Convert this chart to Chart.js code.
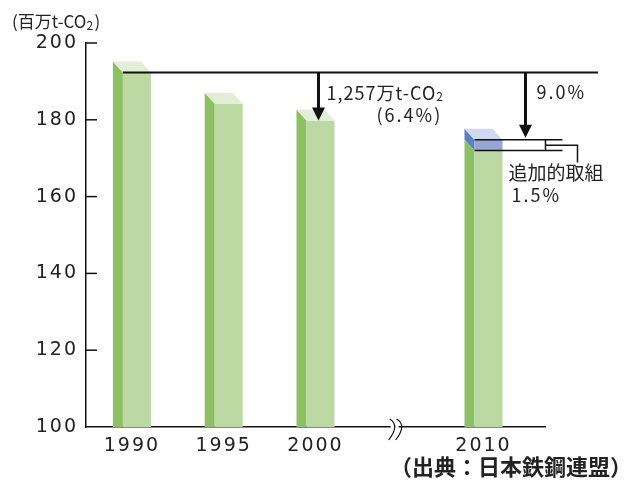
<!DOCTYPE html>
<html lang="ja">
<head>
<meta charset="utf-8">
<title>鉄鋼業のCO2排出量</title>
<script src="https://cdn.jsdelivr.net/npm/chart.js@4.4.1/dist/chart.umd.min.js"></script>
<style>
  html, body { margin: 0; padding: 0; background: #fff; }
</style>
</head>
<body>
<canvas id="co2Chart" width="628" height="480"></canvas>
<script>
const years = ['1990', '1995', '2000', '2010'];
// where each year sits on the x scale (2010 is after the axis break)
const yearSlots = [0, 1, 2, 3.83];
const emissions = [192.3, 184.2, 179.8, 172.0];   // 百万t-CO2
const extraEffort = [null, null, null, 2.8];      // 追加的取組
const yTicks = [100, 120, 140, 160, 180, 200];

const FONT = "'Noto Sans CJK JP', 'Noto Sans', sans-serif";
const NUM_FONT = "'DejaVu Sans', 'Noto Sans CJK JP', sans-serif";
const depthX = 10, depthY = 11;

// 3D look: left side face + top face, drawn from the bar elements
const bars3d = {
    id: 'bars3d',
    afterDatasetsDraw(chart) {
        const ctx = chart.ctx;
        const area = chart.chartArea;
        const sets = chart.data.datasets;
        ctx.save();
        ctx.beginPath();
        ctx.rect(area.left, area.top - 20, area.right - area.left, area.bottom - area.top + 20);
        ctx.clip();
        sets.forEach((ds, di) => {
            const meta = chart.getDatasetMeta(di);
            meta.data.forEach((bar, i) => {
                if (ds.data[i].y == null) return;
                let { x, y, base, width } = bar.getProps(['x', 'y', 'base', 'width'], true);
                if (di === 0) base = Math.min(base, area.bottom);
                const left = x - width / 2, front = left + depthX, right = x + width / 2;
                let isTop = true;
                for (let k = di + 1; k < sets.length; k++) {
                    if (sets[k].data[i].y != null) isTop = false;
                }
                // side face
                ctx.fillStyle = ds.sideColor;
                ctx.beginPath();
                ctx.moveTo(left, y - depthY);
                ctx.lineTo(front, y);
                ctx.lineTo(front, base);
                ctx.lineTo(left, di === 0 ? base : base - depthY);
                ctx.closePath();
                ctx.fill();
                // front face
                ctx.fillStyle = ds.frontColor;
                ctx.fillRect(front, y, right - front, base - y);
                // top face
                if (isTop) {
                    ctx.fillStyle = ds.topColor;
                    ctx.beginPath();
                    ctx.moveTo(left, y - depthY);
                    ctx.lineTo(right - depthX, y - depthY);
                    ctx.lineTo(right, y);
                    ctx.lineTo(front, y);
                    ctx.closePath();
                    ctx.fill();
                }
            });
        });
        ctx.restore();
    }
};

function arrow(ctx, x, y1, y2) {
    ctx.lineWidth = 3;
    ctx.beginPath();
    ctx.moveTo(x, y1);
    ctx.lineTo(x, y2 - 12);
    ctx.stroke();
    ctx.beginPath();
    ctx.moveTo(x - 6.5, y2 - 13);
    ctx.lineTo(x + 6.5, y2 - 13);
    ctx.lineTo(x, y2);
    ctx.closePath();
    ctx.fill();
}

const annotations = {
    id: 'annotations',
    beforeDraw(chart) {
        chart.ctx.letterSpacing = '2px';
    },
    afterDraw(chart) {
        const ctx = chart.ctx;
        const xs = chart.scales.x, ys = chart.scales.y;
        const area = chart.chartArea;
        const bars = chart.getDatasetMeta(0).data;
        const top2010 = emissions[3] + extraEffort[3];
        ctx.save();
        ctx.letterSpacing = '0px';
        ctx.strokeStyle = '#111';
        ctx.fillStyle = '#111';

        // inward tick marks on y axis
        ctx.lineWidth = 1.5;
        yTicks.slice(1).forEach(v => {
            const py = ys.getPixelForValue(v);
            ctx.beginPath();
            ctx.moveTo(area.left, py);
            ctx.lineTo(area.left + 11, py);
            ctx.stroke();
        });

        // axis break
        const bx = xs.getPixelForValue(2.84);
        ctx.fillStyle = '#fff';
        ctx.fillRect(bx - 2, area.bottom - 3, 8, 6);
        ctx.lineWidth = 1.2;
        [0, 7].forEach(dx => {
            ctx.beginPath();
            ctx.moveTo(bx + dx - 3, area.bottom - 8);
            ctx.bezierCurveTo(bx + dx + 4, area.bottom - 4, bx + dx + 4, area.bottom + 3, bx + dx - 4, area.bottom + 13);
            ctx.stroke();
        });
        ctx.fillStyle = '#111';

        // 1990 reference line
        const refY = ys.getPixelForValue(emissions[0]);
        const f1990 = bars[0].x - bars[0].width / 2 + depthX;
        ctx.lineWidth = 2;
        ctx.beginPath();
        ctx.moveTo(f1990, refY);
        ctx.lineTo(area.right + 53, refY);
        ctx.stroke();

        // arrows
        arrow(ctx, bars[2].x + 3, refY, ys.getPixelForValue(emissions[2]));
        const a2x = bars[3].x + bars[3].width / 2 + 23;
        arrow(ctx, a2x, refY, ys.getPixelForValue(top2010) - 2);

        // bracket for 追加的取組
        const by = ys.getPixelForValue(top2010);
        const gy = ys.getPixelForValue(emissions[3]);
        const f2010 = bars[3].x - bars[3].width / 2 + depthX;
        const midY = (by + gy) / 2;
        ctx.lineWidth = 1.5;
        ctx.beginPath();
        ctx.moveTo(f2010, by); ctx.lineTo(a2x + 37, by);
        ctx.moveTo(f2010, gy); ctx.lineTo(a2x + 37, gy);
        ctx.moveTo(a2x + 20, by); ctx.lineTo(a2x + 20, gy);
        ctx.moveTo(a2x + 20, midY); ctx.lineTo(a2x + 52, midY); ctx.lineTo(a2x + 52, gy + 12);
        ctx.stroke();

        // texts
        ctx.textBaseline = 'middle';
        ctx.textAlign = 'left';
        ctx.fillStyle = '#222';
        ctx.letterSpacing = '1px';
        ctx.font = '18px ' + FONT;
        ctx.fillText('1,257万t-CO', bars[2].x + 11, 93);
        const w = ctx.measureText('1,257万t-CO').width;
        ctx.font = '12px ' + FONT;
        ctx.fillText('2', bars[2].x + 11 + w, 96);
        ctx.letterSpacing = '2px';
        ctx.font = '18px ' + FONT;
        ctx.fillText('(6.4%)', bars[2].x + 61, 115);
        ctx.fillText('9.0%', a2x + 11, 92);
        ctx.letterSpacing = '0px';
        ctx.font = '19px ' + FONT;
        ctx.fillText('追加的取組', bars[3].x + 25, 173);
        ctx.letterSpacing = '2px';
        ctx.font = '18px ' + FONT;
        ctx.fillText('1.5%', bars[3].x + 28, 195);

        // unit label
        ctx.letterSpacing = '0px';
        ctx.font = '17px ' + FONT;
        ctx.fillText('(百万t-CO', 12, 22);
        const uw = ctx.measureText('(百万t-CO').width;
        ctx.font = '12px ' + FONT;
        ctx.fillText('2', 12 + uw, 25);
        ctx.font = '17px ' + FONT;
        ctx.fillText(')', 12 + uw + 8, 22);

        // source
        ctx.font = '600 22px ' + FONT;
        ctx.textAlign = 'right';
        ctx.fillText('（出典：日本鉄鋼連盟）', 632, 467);
        ctx.restore();
    }
};

new Chart(document.getElementById('co2Chart'), {
    type: 'bar',
    data: {
        datasets: [{
            label: 'CO2排出量',
            data: years.map((y, i) => ({ x: yearSlots[i], y: emissions[i] })),
            backgroundColor: 'rgba(0,0,0,0)',
            frontColor: '#bdd9a3',
            sideColor: '#8cc063',
            topColor: '#e2eed5',
            barThickness: 38
        }, {
            label: '追加的取組',
            data: years.map((y, i) => ({ x: yearSlots[i], y: extraEffort[i] })),
            backgroundColor: 'rgba(0,0,0,0)',
            frontColor: '#97a6d4',
            sideColor: '#5b7fc1',
            topColor: '#d0d8ef',
            barThickness: 38
        }]
    },
    options: {
        responsive: false,
        animation: false,
        layout: { padding: { top: 43, right: 83, bottom: 0, left: 0 } },
        plugins: {
            legend: { display: false },
            tooltip: { enabled: false }
        },
        scales: {
            x: {
                type: 'linear',
                stacked: true,
                min: -0.5,
                max: 4.5,
                offset: false,
                grid: { display: false, offset: false, drawTicks: false },
                border: { display: true, color: '#111', width: 1.5 },
                afterBuildTicks: s => { s.ticks = yearSlots.map(v => ({ value: v })); },
                afterFit: s => { s.height = 53; },
                ticks: {
                    autoSkip: false,
                    maxRotation: 0,
                    padding: 8,
                    color: '#222',
                    font: { family: NUM_FONT, size: 19 },
                    callback: (v, i) => years[i]
                }
            },
            y: {
                stacked: true,
                min: 100,
                max: 200,
                grid: { display: false, drawTicks: false },
                border: { display: true, color: '#111', width: 1.5 },
                afterFit: s => { s.width = 86; },
                ticks: {
                    stepSize: 20,
                    padding: 8,
                    color: '#222',
                    font: { family: NUM_FONT, size: 19 }
                }
            }
        }
    },
    plugins: [bars3d, annotations]
});
</script>
</body>
</html>
